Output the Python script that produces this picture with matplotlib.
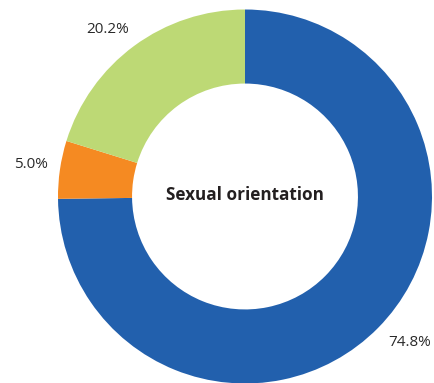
import matplotlib
matplotlib.use("Agg")
import matplotlib.pyplot as plt

plt.rcParams["font.family"] = ["Open Sans", "DejaVu Sans"]

categories = ["Heterosexual", "LGB+", "Prefer not to say"]
shares = [74.8, 5.0, 20.2]
colors = ["#2260ad", "#f58a22", "#bdd975"]
center_title = "Sexual orientation"

W, H = 435, 383
fig = plt.figure(figsize=(W / 100, H / 100), dpi=100)
ax = fig.add_axes([0, 0, 1, 1])

cx, cy, r = 245, 186.5, 187
ax.pie(shares, colors=colors, startangle=90, counterclock=False,
       center=(cx, cy), radius=r, frame=True,
       wedgeprops=dict(width=r * 0.396, linewidth=0))
ax.set_xlim(0, W)
ax.set_ylim(0, H)
ax.set_aspect("equal")
ax.axis("off")

# value labels outside the ring
label_pos = [(410, 41), (31, 219), (108, 354)]
for (x, y), v in zip(label_pos, shares):
    ax.text(x, y, f"{v:.1f}%", ha="center", va="center", fontsize=11, color="#2a2a2a")

ax.text(cx, cy + 2, center_title, ha="center", va="center",
        fontsize=12.3, fontweight="bold", color="#231f20")

fig.savefig("out.png", dpi=100)
